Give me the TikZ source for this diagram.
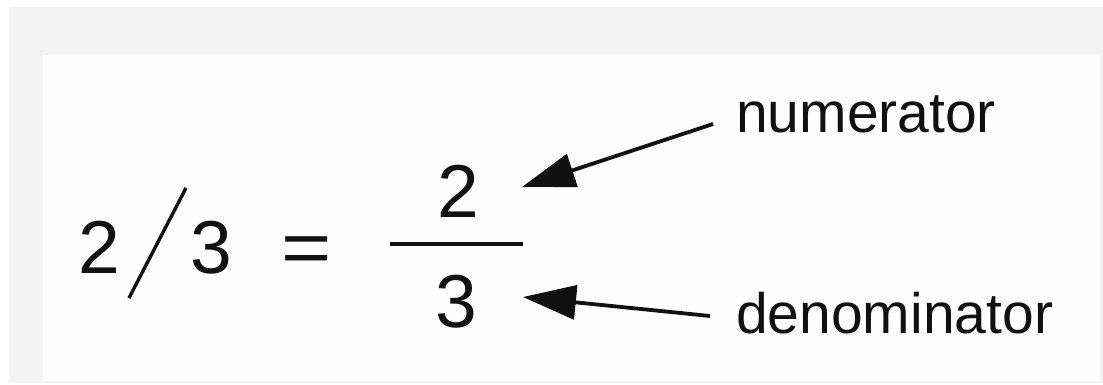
\documentclass[tikz,border=0pt]{standalone}
\usepackage{fontspec}
\setmainfont{Liberation Sans}
\usetikzlibrary{arrows.meta}
\definecolor{bggray}{HTML}{F3F3F3}
\definecolor{inner}{HTML}{FDFDFD}
\definecolor{ink}{HTML}{111111}
\tikzset{
  digit/.style={anchor=base west, inner sep=0pt, text=ink, font=\fontsize{75}{75}\selectfont},
  word/.style={anchor=base west, inner sep=0pt, text=ink, font=\fontsize{57}{57}\selectfont},
  pointer/.style={draw=ink, line width=3.8pt, -{Triangle[length=53pt,width=34pt]}},
  rule/.style={draw=ink, line width=3.8pt}
}
\begin{document}
\begin{tikzpicture}[x=1pt,y=-1pt]
\useasboundingbox (0,0) rectangle (1103,385);
\fill[white] (0,0) rectangle (1103,385);
\fill[bggray] (9,7) rectangle (1103,383);
\fill[inner] (43,55) rectangle (1100,381);
% left expression
\node[digit] (two) at (78.5,273) {2};
\coordinate (slashtop) at (186,188);
\coordinate (slashbot) at (129,298);
\draw[draw=ink, line width=3.4pt] (slashbot) -- (slashtop);
\node[digit, xscale=1.15] (eq) at (281,273) {=};
\node[digit] (three) at (190,273) {3};
% fraction
\node[digit] (num) at (437.7,217) {2};
\coordinate (barL) at (390,244);
\coordinate (barR) at (523,244);
\draw[rule] (barL) -- (barR);
\node[digit] (den) at (434.8,327) {3};
% labels
\node[word] (numlab) at (736,133) {numerator};
\node[word] (denlab) at (736,333) {denominator};
\coordinate (numtail) at (713,124);
\coordinate (numtip) at (522,187);
\coordinate (dentail) at (710,316);
\coordinate (dentip) at (523,297);
\draw[pointer] (numtail) -- (numtip);
\draw[pointer] (dentail) -- (dentip);
\end{tikzpicture}
\end{document}
